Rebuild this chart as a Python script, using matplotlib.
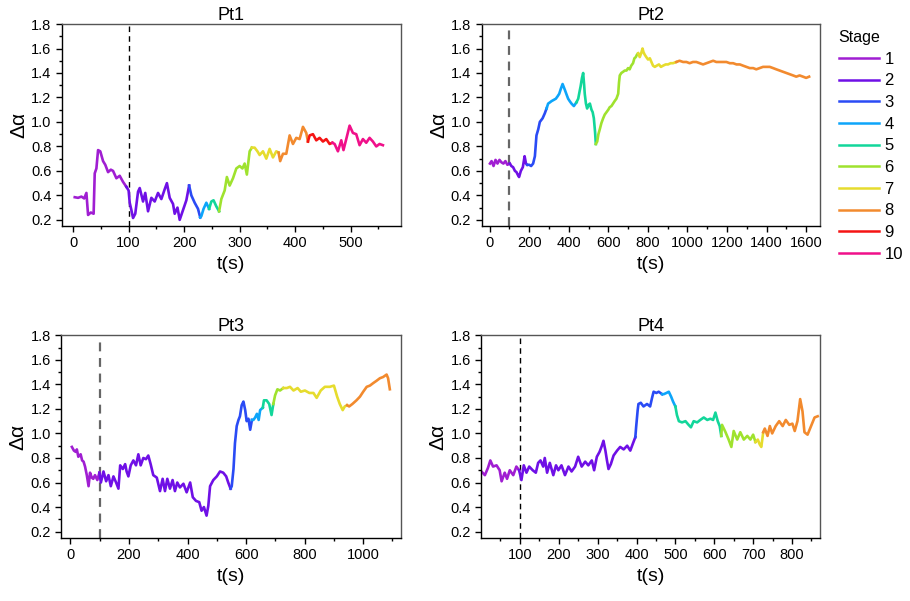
import numpy as np
import matplotlib
matplotlib.use('Agg')
import matplotlib.pyplot as plt
from matplotlib.lines import Line2D
from matplotlib.ticker import MultipleLocator, FormatStrFormatter

plt.rcParams['font.family'] = ['Liberation Sans', 'DejaVu Sans']

stage_colors = ['#A01ED2', '#6F10E6', '#2A4BF5', '#0DA5FA', '#12D69A',
                '#9FE22E', '#E6DC2E', '#F28A2E', '#F51414', '#F0108A']
stage_names = [str(i) for i in range(1, 11)]

# Pt1
pt1_t = [3, 9, 15, 20, 24, 27, 32, 37, 39, 42, 45, 49, 54, 58, 63, 68, 72, 78, 84, 90,
         96, 100, 102, 105, 108, 112, 117, 120, 126, 130, 135, 141, 147, 153, 159, 165,
         169, 174, 180, 183, 188, 192, 198, 204, 209, 213, 219, 225, 229, 231, 235, 240,
         245, 249, 253, 258, 263, 267, 273, 277, 282, 288, 294, 300, 305, 309, 313, 318,
         322, 327, 332, 336, 342, 348, 354, 360, 366, 370, 373, 378, 384, 390, 396, 402,
         408, 414, 420, 423, 426, 432, 438, 444, 450, 456, 462, 467, 471, 477, 483, 487,
         492, 498, 504, 510, 516, 522, 528, 534, 540, 546, 552, 558]
pt1_a = [0.385, 0.38, 0.39, 0.375, 0.42, 0.24, 0.26, 0.25, 0.58, 0.62, 0.77, 0.76, 0.68,
         0.65, 0.59, 0.61, 0.60, 0.54, 0.56, 0.51, 0.47, 0.44, 0.34, 0.28, 0.215, 0.25,
         0.43, 0.46, 0.35, 0.42, 0.27, 0.38, 0.35, 0.42, 0.37, 0.45, 0.50, 0.38, 0.33,
         0.25, 0.30, 0.20, 0.28, 0.36, 0.48, 0.40, 0.34, 0.29, 0.22, 0.23, 0.29, 0.34,
         0.29, 0.35, 0.36, 0.31, 0.27, 0.37, 0.44, 0.55, 0.48, 0.54, 0.62, 0.64, 0.62,
         0.66, 0.57, 0.76, 0.79, 0.79, 0.76, 0.73, 0.76, 0.70, 0.78, 0.71, 0.76, 0.75,
         0.68, 0.74, 0.74, 0.89, 0.82, 0.87, 0.86, 0.96, 0.91, 0.84, 0.89, 0.90, 0.85,
         0.87, 0.84, 0.86, 0.82, 0.83, 0.82, 0.76, 0.85, 0.77, 0.86, 0.97, 0.91, 0.90,
         0.81, 0.86, 0.83, 0.87, 0.84, 0.80, 0.82, 0.81]
pt1_stage_start = [0, 100, 211, 230, 248, 265, 325, 372, 425, 470]

# Pt2
pt2_t = [2, 10, 20, 30, 40, 50, 60, 70, 80, 90, 102, 110, 119, 128, 136, 142, 149, 158,
         168, 177, 184, 190, 200, 210, 220, 229, 237, 246, 254, 268, 279, 288, 296, 305,
         313, 324, 335, 344, 352, 360, 369, 381, 390, 397, 405, 414, 426, 439, 448, 455,
         460, 467, 473, 478, 481, 487, 493, 500, 507, 515, 521, 527, 533, 537, 544, 550,
         557, 565, 574, 582, 591, 600, 607, 616, 624, 632, 641, 650, 654, 658, 666, 675,
         683, 692, 700, 708, 716, 725, 732, 739, 745, 751, 759, 766, 773, 778, 784, 792,
         801, 810, 818, 826, 835, 845, 856, 866, 877, 890, 902, 915, 927, 944, 960, 978,
         995, 1011, 1028, 1045, 1062, 1079, 1096, 1113, 1130, 1146, 1163, 1180, 1197,
         1214, 1231, 1248, 1265, 1281, 1298, 1315, 1332, 1348, 1365, 1382, 1399, 1416,
         1433, 1449, 1466, 1483, 1500, 1517, 1534, 1550, 1567, 1584, 1600, 1615]
pt2_a = [0.66, 0.68, 0.64, 0.69, 0.66, 0.69, 0.67, 0.66, 0.68, 0.65, 0.66, 0.64, 0.63,
         0.60, 0.59, 0.57, 0.55, 0.60, 0.63, 0.72, 0.66, 0.65, 0.65, 0.64, 0.66, 0.72,
         0.89, 0.94, 1.00, 1.03, 1.07, 1.11, 1.15, 1.16, 1.17, 1.18, 1.19, 1.21, 1.23,
         1.27, 1.31, 1.26, 1.22, 1.19, 1.17, 1.15, 1.13, 1.16, 1.19, 1.25, 1.29, 1.36,
         1.40, 1.30, 1.23, 1.15, 1.11, 1.14, 1.15, 1.10, 1.08, 1.03, 0.92, 0.82, 0.84,
         0.90, 0.94, 0.99, 1.03, 1.06, 1.08, 1.10, 1.12, 1.13, 1.15, 1.17, 1.19, 1.23,
         1.32, 1.38, 1.40, 1.41, 1.42, 1.42, 1.44, 1.43, 1.46, 1.48, 1.52, 1.53, 1.55,
         1.56, 1.53, 1.56, 1.60, 1.57, 1.55, 1.53, 1.51, 1.52, 1.49, 1.46, 1.45, 1.46,
         1.47, 1.45, 1.46, 1.47, 1.47, 1.48, 1.48, 1.49, 1.50, 1.49, 1.49, 1.48, 1.49,
         1.49, 1.48, 1.47, 1.48, 1.49, 1.50, 1.49, 1.49, 1.49, 1.49, 1.48, 1.48, 1.47,
         1.47, 1.46, 1.45, 1.44, 1.44, 1.43, 1.44, 1.45, 1.45, 1.45, 1.44, 1.43, 1.42,
         1.41, 1.40, 1.39, 1.38, 1.37, 1.38, 1.37, 1.36, 1.37]
pt2_stage_start = [0, 105, 195, 292, 445, 540, 755, 945]

# Pt3
pt3_t = [5, 12, 18, 22, 27, 35, 40, 45, 50, 56, 62, 67, 73, 78, 84, 92, 99, 104, 113,
         122, 130, 138, 147, 156, 164, 170, 179, 187, 192, 198, 206, 215, 224, 232, 240,
         249, 258, 266, 274, 283, 295, 306, 315, 323, 331, 340, 349, 357, 365, 374, 386,
         397, 409, 418, 429, 440, 448, 456, 465, 471, 477, 488, 500, 511, 522, 532, 539,
         547, 551, 557, 562, 568, 574, 579, 585, 591, 597, 602, 608, 614, 620, 625, 631,
         637, 643, 648, 657, 661, 670, 679, 687, 693, 699, 707, 716, 727, 739, 750, 762,
         776, 787, 801, 816, 830, 841, 855, 869, 886, 900, 911, 920, 930, 937, 945, 952,
         963, 977, 989, 1000, 1012, 1023, 1034, 1046, 1057, 1068, 1080, 1085, 1091]
pt3_a = [0.89, 0.86, 0.85, 0.87, 0.81, 0.83, 0.78, 0.77, 0.73, 0.66, 0.57, 0.68, 0.64,
         0.63, 0.66, 0.62, 0.68, 0.60, 0.69, 0.61, 0.66, 0.57, 0.65, 0.60, 0.55, 0.74,
         0.71, 0.75, 0.69, 0.65, 0.74, 0.78, 0.74, 0.83, 0.74, 0.80, 0.79, 0.82, 0.75,
         0.66, 0.64, 0.53, 0.63, 0.53, 0.63, 0.55, 0.62, 0.53, 0.60, 0.56, 0.59, 0.52,
         0.60, 0.48, 0.45, 0.44, 0.37, 0.40, 0.33, 0.41, 0.57, 0.62, 0.65, 0.69, 0.68,
         0.65, 0.60, 0.55, 0.57, 0.71, 0.92, 1.06, 1.11, 1.14, 1.23, 1.26, 1.19, 1.10,
         1.12, 1.03, 1.11, 1.11, 1.13, 1.16, 1.11, 1.19, 1.21, 1.27, 1.27, 1.24, 1.15,
         1.24, 1.31, 1.36, 1.35, 1.37, 1.37, 1.38, 1.35, 1.37, 1.34, 1.35, 1.33, 1.33,
         1.29, 1.35, 1.38, 1.38, 1.39, 1.30, 1.24, 1.19, 1.22, 1.23, 1.22, 1.24, 1.27,
         1.30, 1.34, 1.38, 1.39, 1.41, 1.43, 1.45, 1.46, 1.48, 1.45, 1.36]
pt3_stage_start = [0, 100, 550, 622, 659, 697, 730, 948]

# Pt4
pt4_t = [1, 10, 18, 24, 31, 40, 48, 53, 61, 67, 74, 83, 91, 98, 104, 110, 117, 124, 133,
         141, 147, 153, 160, 164, 170, 177, 186, 193, 199, 207, 216, 225, 233, 242, 250,
         259, 268, 276, 285, 291, 298, 305, 311, 315, 320, 324, 328, 334, 341, 350, 358,
         367, 376, 384, 391, 397, 399, 403, 405, 411, 418, 427, 435, 440, 444, 451, 457,
         466, 470, 477, 483, 489, 494, 500, 504, 509, 517, 526, 534, 540, 547, 556, 564,
         573, 582, 590, 597, 603, 609, 614, 618, 620, 629, 637, 644, 650, 659, 667, 676,
         685, 693, 700, 706, 712, 717, 721, 726, 730, 737, 743, 749, 758, 767, 776, 784,
         793, 801, 807, 814, 821, 827, 832, 840, 849, 858, 866]
pt4_a = [0.69, 0.66, 0.72, 0.78, 0.73, 0.74, 0.70, 0.61, 0.68, 0.63, 0.70, 0.66, 0.73,
         0.70, 0.62, 0.74, 0.68, 0.73, 0.70, 0.68, 0.76, 0.78, 0.73, 0.80, 0.68, 0.76,
         0.66, 0.74, 0.70, 0.74, 0.66, 0.73, 0.69, 0.73, 0.81, 0.73, 0.77, 0.74, 0.78,
         0.70, 0.81, 0.85, 0.90, 0.94, 0.86, 0.78, 0.71, 0.75, 0.82, 0.86, 0.89, 0.87,
         0.90, 0.86, 0.92, 0.97, 1.05, 1.19, 1.24, 1.25, 1.22, 1.24, 1.22, 1.29, 1.34,
         1.33, 1.34, 1.32, 1.32, 1.33, 1.34, 1.30, 1.26, 1.22, 1.15, 1.10, 1.09, 1.10,
         1.07, 1.05, 1.10, 1.09, 1.11, 1.13, 1.11, 1.12, 1.11, 1.17, 1.10, 1.06, 0.98,
         1.07, 1.01, 0.95, 0.89, 1.02, 0.95, 1.01, 0.95, 0.98, 0.95, 0.99, 0.93, 0.95,
         0.91, 0.89, 1.01, 1.04, 0.98, 1.06, 1.00, 1.06, 1.10, 1.06, 1.11, 1.07, 1.08,
         1.02, 1.10, 1.28, 1.18, 1.01, 0.99, 1.06, 1.13, 1.14]
pt4_stage_start = [0, 100, 398, 468, 502, 619, 710, 728]

panels = [
    ('Pt1', pt1_t, pt1_a, pt1_stage_start, [0.0681, 0.624, 0.3722, 0.336], (-20, 590), 100, 50, 0, 'k', 1.0),
    ('Pt2', pt2_t, pt2_a, pt2_stage_start, [0.5293, 0.624, 0.3718, 0.336], (-40, 1670), 200, 100, 0, '#666666', 1.6),
    ('Pt3', pt3_t, pt3_a, pt3_stage_start, [0.0674, 0.1053, 0.3729, 0.3368], (-31, 1128), 200, 100, 0, '#666666', 1.6),
    ('Pt4', pt4_t, pt4_a, pt4_stage_start, [0.529, 0.1053, 0.3721, 0.3368], (1, 872), 100, 50, 100, 'k', 1.0),
]

fig = plt.figure(figsize=(9.10, 6.01), dpi=100)

for name, t, a, starts, pos, xlim, major, minor, first_tick, dcol, dlw in panels:
    ax = fig.add_axes(pos)
    t = np.array(t)
    a = np.array(a)
    st = np.searchsorted(starts, t, side='right') - 1
    for s in np.unique(st):
        idx = np.where(st == s)[0]
        i0 = max(idx[0] - 1, 0)
        ax.plot(t[i0:idx[-1] + 1], a[i0:idx[-1] + 1], color=stage_colors[s], lw=1.9,
                solid_joinstyle='round')
    ax.axvline(100, color=dcol, lw=dlw, ls=(0, (4, 3)), zorder=0)
    ax.set_xlim(xlim)
    ax.set_ylim(0.15, 1.8)
    ax.set_xticks(np.arange(first_tick, xlim[1], major))
    ax.xaxis.set_minor_locator(MultipleLocator(minor))
    ax.yaxis.set_minor_locator(MultipleLocator(0.1))
    ax.set_yticks(np.arange(0.2, 1.81, 0.2))
    ax.yaxis.set_major_formatter(FormatStrFormatter('%.1f'))
    ax.tick_params(which='both', direction='out', top=False, right=False, labelsize=10.5)
    ax.tick_params(which='major', length=4, width=1)
    ax.tick_params(which='minor', length=2.5, width=1)
    for sp in ax.spines.values():
        sp.set_linewidth(1.0)
        sp.set_color('#555555')
    ax.spines['left'].set_color('black')
    ax.spines['bottom'].set_color('black')
    ax.set_title(name, fontsize=13, pad=3)
    ax.set_xlabel('t(s)', fontsize=14, labelpad=4)
    ax.set_ylabel('Δα', fontsize=15, labelpad=2)

handles = [Line2D([], [], color=c, lw=1.8) for c in stage_colors]
fig.legend(handles, stage_names, title='Stage', loc='upper left',
           bbox_to_anchor=(0.905, 0.975), frameon=False, fontsize=12,
           title_fontsize=11.5, handlelength=2.4, labelspacing=0.4,
           handletextpad=0.35, alignment='left')

fig.savefig('out.png', dpi=100)
